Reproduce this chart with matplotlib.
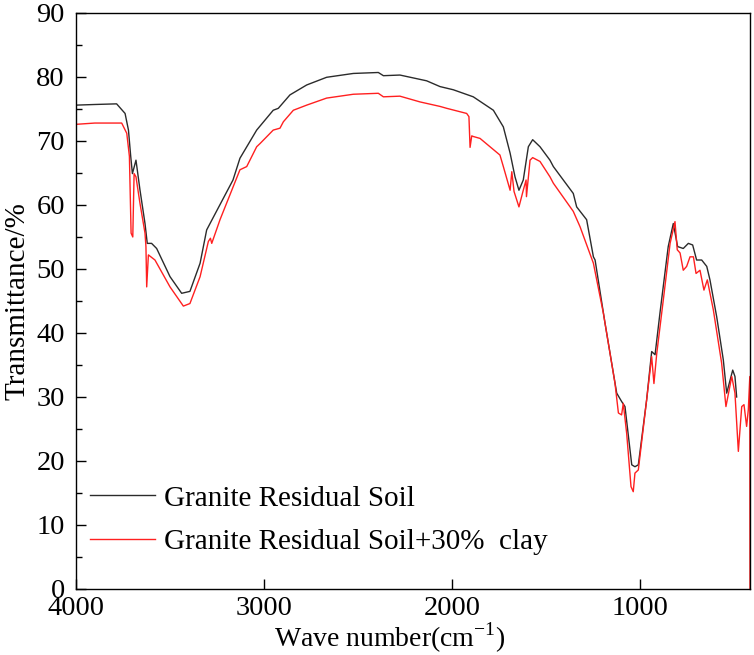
"""FTIR spectra of granite residual soil with and without clay."""
import matplotlib
matplotlib.use("Agg")
import numpy as np
from matplotlib import pyplot as plt
from matplotlib.ticker import MultipleLocator

# black curve: Granite Residual Soil
wn_soil = [4000, 3900, 3784, 3739, 3721, 3709, 3700, 3690, 3681, 3660, 3633, 3621,
           3598, 3571, 3500, 3438, 3394, 3340, 3305, 3271, 3165, 3128, 3039, 2951,
           2924, 2862, 2773, 2667, 2525, 2392, 2365, 2277, 2135, 2064, 1993, 1887,
           1780, 1727, 1691, 1665, 1644, 1621, 1594, 1571, 1532, 1479, 1461, 1355,
           1337, 1284, 1248, 1239, 1186, 1124, 1098, 1080, 1044, 1027, 1009, 965,
           938, 920, 894, 850, 823, 800, 770, 743, 720, 699, 672, 645, 628, 592,
           557, 539, 507, 495, 486]
t_soil = [75.6, 75.7, 75.8, 74.3, 71.7, 67.6, 64.9, 66.0, 67.0, 62.4, 57.1, 54.0,
          54.0, 53.2, 48.8, 46.2, 46.5, 50.9, 56.1, 58.0, 63.9, 67.3, 71.7, 74.8,
          75.1, 77.2, 78.75, 79.95, 80.55, 80.7, 80.2, 80.3, 79.4, 78.5, 78.0, 76.9,
          74.8, 72.2, 68.1, 64.4, 62.3, 63.9, 69.1, 70.2, 69.1, 67.0, 66.0, 61.8,
          59.7, 57.7, 51.9, 51.4, 41.5, 30.6, 29.3, 28.5, 19.4, 19.1, 19.4, 29.5,
          37.1, 36.6, 43.1, 53.5, 57.1, 53.5, 53.2, 54.0, 53.75, 51.4, 51.4, 50.4,
          48.3, 42.5, 35.8, 30.6, 34.2, 33.2, 30.0]

# red curve: Granite Residual Soil + 30% clay
wn_clay = [4000, 3900, 3757, 3730, 3716, 3707, 3698, 3691, 3681, 3660, 3633, 3628,
           3624, 3615, 3580, 3500, 3429, 3394, 3340, 3296, 3285, 3278, 3234, 3128,
           3092, 3039, 3021, 2951, 2915, 2897, 2844, 2773, 2667, 2525, 2392, 2365,
           2277, 2170, 2064, 2028, 1922, 1910, 1904, 1895, 1887, 1851, 1798, 1745,
           1727, 1691, 1682, 1670, 1644, 1621, 1606, 1604, 1585, 1571, 1532, 1479,
           1461, 1355, 1319, 1248, 1195, 1133, 1115, 1098, 1089, 1071, 1048, 1036,
           1027, 1009, 965, 938, 926, 911, 876, 840, 814, 802, 787, 770, 752, 734,
           716, 702, 681, 660, 642, 610, 566, 543, 512, 495, 477, 459, 447, 433,
           424, 416, 415]
t_clay = [72.6, 72.8, 72.8, 71.2, 67.6, 55.6, 55.0, 64.9, 64.4, 60.3, 55.6, 53.5,
          47.2, 52.2, 51.4, 47.2, 44.2, 44.6, 48.8, 54.3, 54.8, 54.0, 57.7, 65.5,
          66.0, 69.1, 69.6, 71.7, 72.0, 73.0, 74.8, 75.6, 76.7, 77.3, 77.45, 76.9,
          77.0, 76.1, 75.4, 75.1, 74.3, 73.8, 69.0, 70.8, 70.7, 70.4, 69.1, 67.8,
          66.0, 62.3, 65.2, 62.1, 59.7, 62.3, 63.9, 61.3, 67.0, 67.4, 66.8, 64.4,
          63.4, 59.0, 56.6, 50.9, 43.1, 32.1, 27.5, 27.2, 29.0, 24.3, 16.0, 15.2,
          18.1, 18.6, 29.5, 36.3, 32.1, 36.8, 45.2, 54.0, 57.4, 53.0, 52.5, 49.8,
          50.4, 51.9, 51.9, 49.3, 49.8, 46.7, 48.3, 43.6, 35.3, 28.5, 33.2, 30.6,
          21.5, 28.5, 28.8, 25.4, 28.0, 33.2, 0.0]

labels = ["Granite Residual Soil", "Granite Residual Soil+30%  clay"]

plt.rcParams["font.family"] = ["Liberation Serif", "DejaVu Serif"]
plt.rcParams["mathtext.fontset"] = "custom"
plt.rcParams["mathtext.rm"] = "Liberation Serif"

fig = plt.figure(figsize=(7.54, 6.55), dpi=100)
ax = fig.add_axes([0.1008, 0.1008, 0.8939, 0.8794])

ax.plot(wn_soil, t_soil, color="#2b2b2b", lw=1.0, label=labels[0])
ax.plot(wn_clay, t_clay, color="#ff2020", lw=1.0, label=labels[1])

ax.set_xlim(4000, 415)
ax.set_ylim(0, 90)
ax.xaxis.set_major_locator(MultipleLocator(1000))
ax.yaxis.set_major_locator(MultipleLocator(10))
ax.yaxis.set_minor_locator(MultipleLocator(5))
ax.tick_params(axis="both", which="major", direction="in", length=7, width=1,
               labelsize=20.5, pad=8)
ax.tick_params(axis="x", which="major", pad=5)
ax.tick_params(axis="y", which="minor", direction="in", length=4, width=1)
for s in ax.spines.values():
    s.set_linewidth(1.0)

ax.set_xlabel("Wave number(cm$^{\\mathrm{-1}}$)", fontsize=20, labelpad=0, x=0.466)
ax.set_ylabel("Transmittance/%", fontsize=21, labelpad=4)

ax.legend(loc="lower left", bbox_to_anchor=(-0.01, 0.023), frameon=False,
          fontsize=21, handlelength=2.25, handletextpad=0.3, labelspacing=0.59,
          borderaxespad=0.3)

fig.savefig("out.png", dpi=100)
